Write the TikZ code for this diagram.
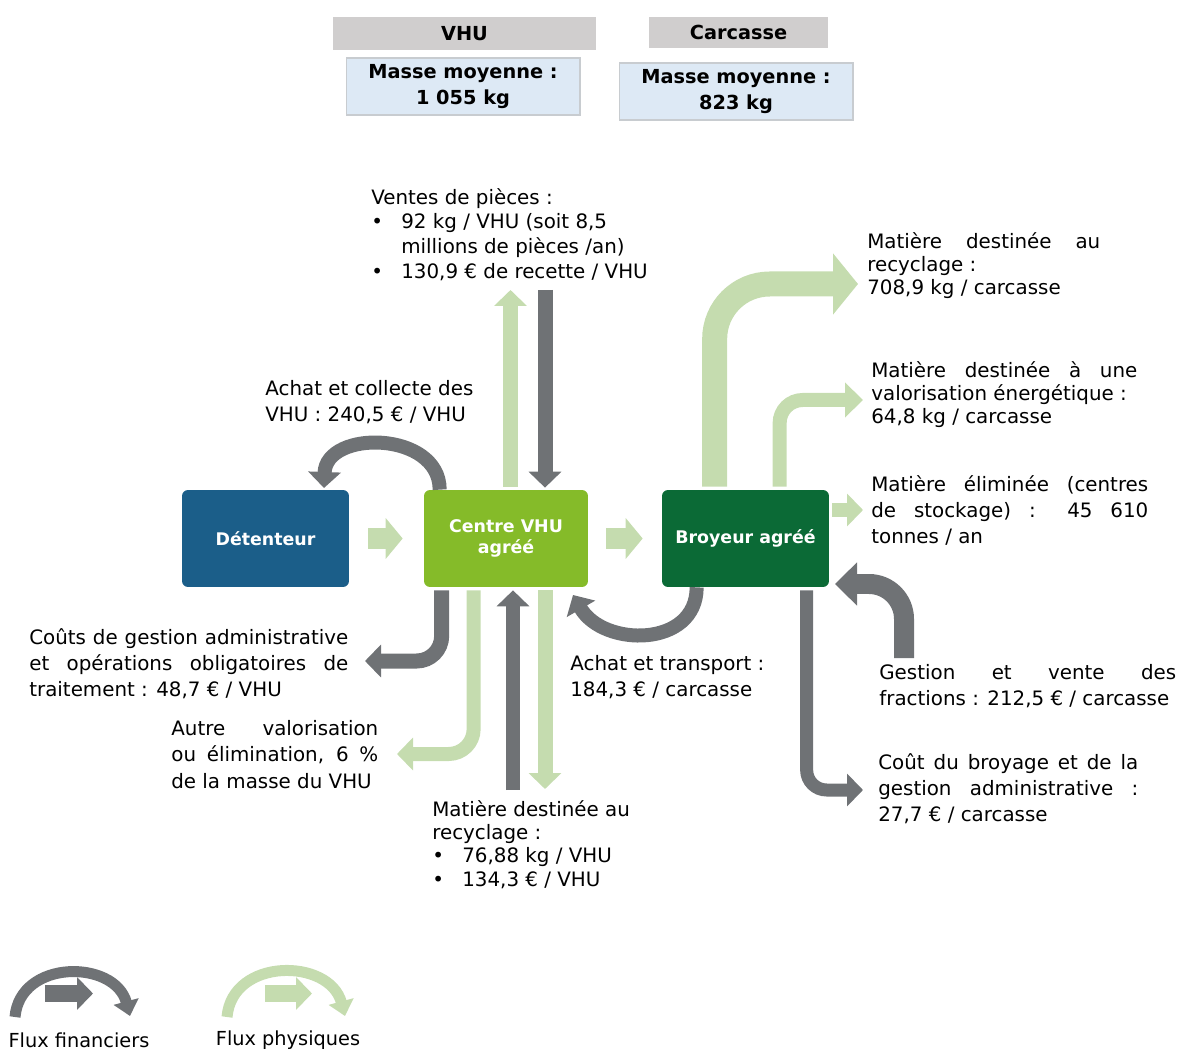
\documentclass[tikz,border=0pt]{standalone}
\usepackage{fontspec}
\setmainfont{DejaVu Sans}
\usetikzlibrary{arrows.meta}
\setlength{\parindent}{0pt}
\hyphenpenalty=10000
\exhyphenpenalty=10000
\definecolor{headgray}{RGB}{208,206,206}
\definecolor{massblue}{RGB}{221,233,245}
\definecolor{massline}{RGB}{200,204,208}
\definecolor{detblue}{RGB}{27,94,137}
\definecolor{cenlime}{RGB}{133,187,41}
\definecolor{brogreen}{RGB}{11,106,54}
\definecolor{flowgreen}{RGB}{197,220,175}
\definecolor{flowgray}{RGB}{111,114,117}
\newcommand{\puce}{\makebox[0.6cm][l]{•}}
\newcommand{\retrait}{\hspace*{0.6cm}}
\tikzset{
	box/.style={rounded corners=0.12cm, minimum width=3.34cm, minimum height=1.94cm, inner sep=0pt, text=white, align=center, font=\fontsize{9.9}{12}\selectfont\bfseries},
	headbox/.style={fill=headgray, inner sep=0pt, font=\fontsize{11}{15}\selectfont\bfseries},
	massbox/.style={fill=massblue, draw=massline, line width=0.6pt, minimum width=4.68cm, minimum height=1.14cm, inner sep=0pt, align=center, font=\fontsize{11}{15.3}\selectfont\bfseries},
	txt/.style={anchor=north west, inner sep=0pt, align=left, font=\fontsize{11.3}{15}\selectfont},
	tight/.style={font=\fontsize{11.3}{13.3}\selectfont},
	just/.style={txt, text width=#1, align=justify},
	fat/.style={draw=flowgreen, line width=0.44cm, -{Triangle[width=0.8cm,length=0.34cm]}},
	thing/.style={draw=flowgreen, line width=0.3cm, -{Triangle[width=0.64cm,length=0.32cm]}},
	thinf/.style={draw=flowgray, line width=0.3cm, -{Triangle[width=0.64cm,length=0.32cm]}}
}
\begin{document}
\begin{tikzpicture}[x=0.02cm, y=0.02cm]
	\useasboundingbox (0,0) rectangle (1183,-1050);
	% masses
	\node[headbox, minimum width=5.26cm, minimum height=0.66cm] (vhuhead) at (464.5,-33.5) {VHU};
	\node[massbox] (vhumass) at (463,-86.5) {Masse moyenne :\\1 055 kg};
	\node[headbox, minimum width=3.58cm, minimum height=0.62cm] (carhead) at (738.5,-32.5) {Carcasse};
	\node[massbox] (carmass) at (736,-91.5) {Masse moyenne :\\823 kg};
	% acteurs
	\node[box, fill=detblue] (det) at (265.5,-538.5) {Détenteur};
	\node[box, fill=cenlime, minimum width=3.28cm] (cen) at (506,-538.5) {Centre VHU\\agréé};
	\node[box, fill=brogreen] (bro) at (745.5,-538.5) {Broyeur agréé};
	% textes
	\node[txt, font=\fontsize{11.3}{14}\selectfont] (ventes) at (371,-188) {Ventes de pièces :\\\puce 92 kg / VHU (soit 8,5\\\retrait millions de pièces /an)\\\puce 130,9 € de recette / VHU};
	\node[txt] (achatcoll) at (265,-380) {Achat et collecte des\\VHU : 240,5 € / VHU};
	\node[just=4.66cm, tight] (recyc) at (867,-232) {Matière destinée au\linebreak recyclage :\newline 708,9 kg / carcasse};
	\node[just=5.32cm, tight] (valo) at (871,-361) {Matière destinée à une\linebreak valorisation énergétique :\newline 64,8 kg / carcasse};
	\node[just=5.54cm] (elim) at (871,-475) {Matière éliminée (centres\linebreak de stockage) : 45 610\linebreak tonnes / an};
	\node[just=6.38cm] (couts) at (29,-628) {Coûts de gestion administrative\linebreak et opérations obligatoires de\linebreak traitement : 48,7 € / VHU};
	\node[just=4.14cm] (autre) at (171,-720) {Autre valorisation\linebreak ou élimination, 6 \%\linebreak de la masse du VHU};
	\node[txt] (achattr) at (570,-655) {Achat et transport :\\184,3 € / carcasse};
	\node[just=5.94cm] (gest) at (879,-664) {Gestion et vente des\linebreak fractions : 212,5 € / carcasse};
	\node[just=5.2cm] (cout) at (878,-753) {Coût du broyage et de la\linebreak gestion administrative :\linebreak 27,7 € / carcasse};
	\node[txt, tight] (recbas) at (432,-800) {Matière destinée au\\recyclage :\\\puce 76,88 kg / VHU\\\puce 134,3 € / VHU};
	% extremites libres
	\coordinate (ventup) at (510.5,-290);
	\coordinate (ventdn) at (545,-290);
	\coordinate (recup) at (513,-790);
	\coordinate (recdn) at (545,-789);
	\coordinate (coutsl) at (365,-661);
	\coordinate (autrel) at (397,-754);
	\coordinate (achtip) at (324,-488);
	\coordinate (transtip) at (573,-595);
	\coordinate (recycr) at (858,-284);
	\coordinate (valor) at (863,-400);
	\coordinate (elimr) at (863,-510);
	\coordinate (gestfoot) at (904,-658);
	\coordinate (gesttip) at (835,-584);
	\coordinate (coutr) at (863,-790);
	% flux
	\draw[fat] ([xshift=0.38cm]det.east) -- ([xshift=-0.42cm]cen.west);
	\draw[fat] ([xshift=0.36cm]cen.east) -- ([xshift=-0.38cm]bro.west);
	\draw[thing, shorten <=0.06cm] (ventup |- cen.north) -- (ventup);
	\draw[thinf, shorten >=0.04cm] (ventdn) -- (ventdn |- cen.north);
	\draw[thinf, line width=0.28cm, shorten >=0.06cm] (recup) -- (recup |- cen.south);
	\draw[thing, shorten <=0.06cm] (recdn |- cen.south) -- (recdn);
	\draw[thinf, rounded corners=0.5cm, shorten <=0.06cm] ([xshift=0.36cm]cen.south west) |- (coutsl);
	\draw[thing, line width=0.28cm, rounded corners=0.5cm, shorten <=0.06cm] ([xshift=1cm]cen.south west) |- (autrel);
	\draw[thinf, line width=0.28cm] ([xshift=0.32cm]cen.north west) to[out=90, in=88, looseness=1.3] (achtip);
	\draw[thinf, line width=0.28cm] ([xshift=0.7cm]bro.south west) to[out=-90, in=-60, looseness=1.25] (transtip);
	\draw[thing, line width=0.5cm, rounded corners=1.1cm, shorten <=0.06cm, -{Triangle[width=1.2cm,length=0.5cm]}] ([xshift=1.06cm]bro.north west) |- (recycr);
	\draw[thing, line width=0.28cm, rounded corners=0.46cm, shorten <=0.06cm, -{Triangle[width=0.68cm,length=0.36cm]}] ([xshift=2.36cm]bro.north west) |- (valor);
	\draw[thing, line width=0.28cm, shorten <=0.06cm] (elimr -| bro.east) -- (elimr);
	\draw[thinf, line width=0.4cm, rounded corners=0.7cm, -{Triangle[width=0.84cm,length=0.44cm]}] (gestfoot) |- (gesttip);
	\draw[thinf, line width=0.26cm, rounded corners=0.4cm, shorten <=0.06cm] ([xshift=2.9cm]bro.south west) |- (coutr);
	% legende
	\draw[thinf, line width=0.22cm, -{Triangle[width=0.5cm,length=0.3cm]}] (15,-1017) to[out=85, in=105, looseness=1.3] (130,-1016);
	\draw[thinf, line width=0.34cm] (45,-993.5) -- (93,-993.5);
	\draw[thing, line width=0.22cm, -{Triangle[width=0.5cm,length=0.3cm]}] (227,-1017) to[out=85, in=105, looseness=1.3] (345,-1016);
	\draw[thing, line width=0.34cm] (265,-993.5) -- (312,-993.5);
	\node[font=\fontsize{11}{13}\selectfont] (legfin) at (79,-1040) {Flux financiers};
	\node[font=\fontsize{11}{13}\selectfont] (legphy) at (288,-1040) {Flux physiques};
\end{tikzpicture}
\end{document}
